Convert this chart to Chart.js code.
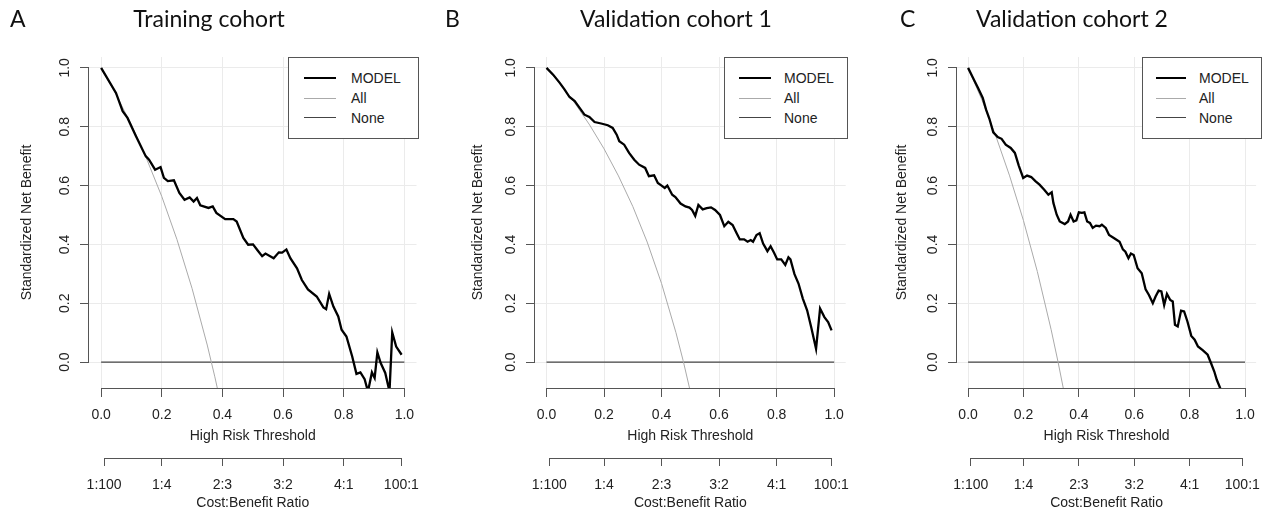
<!DOCTYPE html>
<html>
<head>
<meta charset="utf-8">
<script src="https://cdn.jsdelivr.net/npm/chart.js@4.4.1/dist/chart.umd.min.js"></script>
<style>
  body { margin: 0; background: #fff; width: 1271px; height: 513px; position: relative; overflow: hidden; }
  canvas { position: absolute; top: 0; }
  .letter, .title { position: absolute; top: 5px; font-family: Lato, "Open Sans", sans-serif; font-size: 23px; line-height: 27px; color: #111; white-space: nowrap; }
  .title { transform: translateX(-50%); }
  .legend { position: absolute; top: 57px; height: 82px; box-sizing: border-box; border: 1px solid #555; background: #fff; }
  .legend .sample { position: absolute; height: 0; }
  .legend .label { position: absolute; font-family: "Liberation Sans", Arial, sans-serif; font-size: 14px; line-height: 16px; color: #222; }
</style>
</head>
<body>
<canvas id="chartA" width="430" height="513"></canvas>
<canvas id="chartB" width="414" height="513"></canvas>
<canvas id="chartC" width="403" height="513"></canvas>

<script>
// Tick values / labels shared by all three panels
const xTicks = [0, 0.2, 0.4, 0.6, 0.8, 1.0];
const yTicks = [0, 0.2, 0.4, 0.6, 0.8, 1.0];
const costTicks = [0.0099, 0.2, 0.4, 0.6, 0.8, 0.9901];
const costLabels = ['1:100', '1:4', '2:3', '3:2', '4:1', '100:1'];
const seriesNames = ['MODEL', 'All', 'None'];

// Training cohort (A) - model curve
const trainT = [0, 0.049, 0.071, 0.087, 0.115, 0.147, 0.158, 0.178, 0.196, 0.207, 0.22, 0.24, 0.258, 0.275, 0.292, 0.305, 0.316, 0.327, 0.354, 0.368, 0.38, 0.409, 0.436, 0.447, 0.469, 0.485, 0.501, 0.515, 0.531, 0.542, 0.569, 0.586, 0.597, 0.611, 0.624, 0.646, 0.662, 0.682, 0.711, 0.733, 0.742, 0.752, 0.766, 0.782, 0.793, 0.809, 0.828, 0.842, 0.855, 0.869, 0.88, 0.893, 0.902, 0.911, 0.922, 0.937, 0.951, 0.96, 0.973, 0.991];
const trainNB = [1.0, 0.915, 0.853, 0.83, 0.768, 0.7, 0.688, 0.654, 0.663, 0.626, 0.615, 0.618, 0.575, 0.552, 0.56, 0.546, 0.558, 0.533, 0.524, 0.529, 0.507, 0.486, 0.486, 0.478, 0.422, 0.399, 0.4, 0.381, 0.36, 0.369, 0.353, 0.373, 0.372, 0.383, 0.353, 0.319, 0.279, 0.247, 0.223, 0.186, 0.18, 0.232, 0.189, 0.155, 0.11, 0.087, 0.019, -0.04, -0.035, -0.058, -0.1, -0.035, -0.054, 0.033, -0.003, -0.037, -0.1, 0.101, 0.053, 0.025];
const trainAllT = [0, 0.05, 0.1, 0.15, 0.2, 0.25, 0.3, 0.35, 0.375, 0.4];
const trainAllNB = [1.0, 0.908, 0.806, 0.691, 0.563, 0.417, 0.25, 0.058, -0.05, -0.167];

// Validation cohort 1 (B)
const val1T = [0, 0.023, 0.046, 0.063, 0.08, 0.098, 0.115, 0.132, 0.149, 0.167, 0.19, 0.213, 0.23, 0.244, 0.253, 0.27, 0.287, 0.305, 0.322, 0.343, 0.356, 0.374, 0.387, 0.4, 0.411, 0.42, 0.437, 0.448, 0.466, 0.483, 0.497, 0.506, 0.517, 0.528, 0.543, 0.557, 0.572, 0.586, 0.603, 0.618, 0.632, 0.647, 0.661, 0.672, 0.687, 0.699, 0.71, 0.718, 0.73, 0.741, 0.753, 0.768, 0.779, 0.791, 0.802, 0.816, 0.83, 0.841, 0.848, 0.862, 0.876, 0.891, 0.906, 0.92, 0.937, 0.951, 0.966, 0.979, 0.991];
const val1NB = [1.0, 0.977, 0.949, 0.926, 0.901, 0.887, 0.864, 0.841, 0.833, 0.816, 0.811, 0.805, 0.796, 0.773, 0.751, 0.739, 0.711, 0.688, 0.671, 0.66, 0.632, 0.635, 0.609, 0.6, 0.592, 0.6, 0.569, 0.561, 0.539, 0.529, 0.525, 0.517, 0.497, 0.534, 0.519, 0.523, 0.526, 0.517, 0.5, 0.462, 0.477, 0.466, 0.438, 0.417, 0.417, 0.409, 0.415, 0.409, 0.432, 0.438, 0.403, 0.377, 0.394, 0.372, 0.349, 0.349, 0.33, 0.356, 0.349, 0.299, 0.267, 0.216, 0.176, 0.119, 0.045, 0.182, 0.153, 0.136, 0.108];
const val1AllT = [0, 0.05, 0.1, 0.15, 0.2, 0.25, 0.3, 0.35, 0.4, 0.45, 0.475, 0.5];
const val1AllNB = [1.0, 0.942, 0.878, 0.806, 0.725, 0.633, 0.529, 0.408, 0.267, 0.1, 0.005, -0.1];

// Validation cohort 2 (C)
const val2T = [0, 0.018, 0.036, 0.053, 0.065, 0.077, 0.091, 0.107, 0.121, 0.136, 0.154, 0.169, 0.183, 0.199, 0.213, 0.228, 0.243, 0.258, 0.275, 0.29, 0.302, 0.308, 0.32, 0.331, 0.349, 0.361, 0.37, 0.381, 0.391, 0.4, 0.411, 0.42, 0.43, 0.44, 0.45, 0.462, 0.475, 0.483, 0.497, 0.509, 0.529, 0.547, 0.559, 0.568, 0.579, 0.588, 0.598, 0.612, 0.627, 0.641, 0.653, 0.667, 0.677, 0.688, 0.698, 0.708, 0.718, 0.73, 0.739, 0.747, 0.757, 0.769, 0.78, 0.792, 0.806, 0.818, 0.83, 0.848, 0.865, 0.877, 0.889, 0.898, 0.91, 0.92];
const val2NB = [1.0, 0.966, 0.932, 0.898, 0.858, 0.827, 0.781, 0.765, 0.759, 0.739, 0.728, 0.711, 0.668, 0.626, 0.634, 0.629, 0.615, 0.603, 0.586, 0.569, 0.577, 0.541, 0.501, 0.478, 0.469, 0.478, 0.501, 0.478, 0.482, 0.509, 0.507, 0.509, 0.478, 0.473, 0.456, 0.464, 0.462, 0.467, 0.456, 0.432, 0.42, 0.409, 0.383, 0.375, 0.353, 0.369, 0.364, 0.319, 0.302, 0.247, 0.228, 0.2, 0.223, 0.243, 0.24, 0.194, 0.232, 0.211, 0.206, 0.127, 0.121, 0.175, 0.172, 0.138, 0.089, 0.076, 0.053, 0.04, 0.025, -0.003, -0.032, -0.06, -0.088, -0.12];
const val2AllT = [0, 0.05, 0.1, 0.15, 0.2, 0.25, 0.3, 0.325, 0.35];
const val2AllNB = [1.0, 0.891, 0.769, 0.633, 0.481, 0.308, 0.11, 0.0, -0.118];

// "None" reference line
const noneT = [0, 1];
const noneNB = [0, 0];

const AXIS_COLOR = '#555';
const GRID_COLOR = '#ebebeb';
const TEXT_COLOR = '#222';
const lineColors = ['#000', '#aaa', '#444'];
const lineWidths = [2.3, 1, 1.2];

// Layout of the three panels (pixels)
const panels = [
    { canvas: 'chartA', left: 0, padRight: 11, yTitlePad: 19, letter: 'A', letterLeft: 10, title: 'Training cohort', titleCenter: 209,
      legend: { left: 288, width: 131, sampleX: 15, sampleW: 32, textX: 62 },
      t: trainT, nb: trainNB, allT: trainAllT, allNB: trainAllNB },
    { canvas: 'chartB', left: 446, padRight: 12, yTitlePad: 24, letter: 'B', letterLeft: 445, title: 'Validation cohort 1', titleCenter: 676,
      legend: { left: 724, width: 124, sampleX: 14, sampleW: 32, textX: 59 },
      t: val1T, nb: val1NB, allT: val1AllT, allNB: val1AllNB },
    { canvas: 'chartC', left: 868, padRight: 9, yTitlePad: 26, letter: 'C', letterLeft: 900, title: 'Validation cohort 2', titleCenter: 1072,
      legend: { left: 1142, width: 120, sampleX: 13, sampleW: 30, textX: 56 },
      t: val2T, nb: val2NB, allT: val2AllT, allNB: val2AllNB }
];

Chart.defaults.font.family = "'Liberation Sans', Arial, sans-serif";
Chart.defaults.font.size = 14;
Chart.defaults.color = TEXT_COLOR;

function toPoints(xs, ys) {
    return xs.map((x, i) => ({ x: x, y: ys[i] }));
}

// Draws the R-style axis lines, which only run from the first to the last tick
const axisLines = {
    id: 'axisLines',
    afterDraw(chart) {
        const { ctx, chartArea, scales } = chart;
        const { x, y, x2 } = scales;
        ctx.save();
        ctx.strokeStyle = AXIS_COLOR;
        ctx.lineWidth = 1;
        ctx.beginPath();
        const yb = Math.round(chartArea.bottom) + 0.5;
        ctx.moveTo(x.getPixelForValue(xTicks[0]), yb);
        ctx.lineTo(x.getPixelForValue(xTicks[xTicks.length - 1]), yb);
        const xl = Math.round(chartArea.left) - 0.5;
        ctx.moveTo(xl, y.getPixelForValue(yTicks[0]));
        ctx.lineTo(xl, y.getPixelForValue(yTicks[yTicks.length - 1]));
        const y2 = Math.round(x2.top) + 0.5;
        ctx.moveTo(x2.getPixelForValue(costTicks[0]), y2);
        ctx.lineTo(x2.getPixelForValue(costTicks[costTicks.length - 1]), y2);
        ctx.stroke();
        ctx.restore();
    }
};

function addText(p) {
    const letter = document.createElement('div');
    letter.className = 'letter';
    letter.style.left = p.letterLeft + 'px';
    letter.textContent = p.letter;
    document.body.appendChild(letter);

    const title = document.createElement('div');
    title.className = 'title';
    title.style.left = p.titleCenter + 'px';
    title.textContent = p.title;
    document.body.appendChild(title);

    // Legend box in the top right corner of the plot
    const lg = document.createElement('div');
    lg.className = 'legend';
    lg.style.left = p.legend.left + 'px';
    lg.style.width = p.legend.width + 'px';
    seriesNames.forEach((name, i) => {
        const rowY = 20 + i * 20;
        const s = document.createElement('div');
        s.className = 'sample';
        s.style.left = p.legend.sampleX + 'px';
        s.style.width = p.legend.sampleW + 'px';
        s.style.top = (rowY - lineWidths[i] / 2) + 'px';
        s.style.borderTop = lineWidths[i] + 'px solid ' + lineColors[i];
        lg.appendChild(s);
        const t = document.createElement('div');
        t.className = 'label';
        t.style.left = p.legend.textX + 'px';
        t.style.top = (rowY - 8) + 'px';
        t.textContent = name;
        lg.appendChild(t);
    });
    document.body.appendChild(lg);
}

function renderPanel(p) {
    const canvas = document.getElementById(p.canvas);
    canvas.style.left = p.left + 'px';

    const datasets = [
        toPoints(p.t, p.nb),
        toPoints(p.allT, p.allNB),
        toPoints(noneT, noneNB)
    ].map((data, i) => ({
        label: seriesNames[i],
        data: data,
        borderColor: lineColors[i],
        borderWidth: lineWidths[i],
        pointRadius: 0,
        tension: 0,
        fill: false
    }));

    new Chart(canvas, {
        type: 'line',
        data: { datasets: datasets },
        options: {
            responsive: false,
            animation: false,
            devicePixelRatio: 1,
            layout: { padding: { top: 57, right: p.padRight, bottom: 0, left: 0 } },
            plugins: { legend: { display: false }, tooltip: { enabled: false } },
            scales: {
                x: {
                    type: 'linear', position: 'bottom', weight: 0,
                    min: -0.04, max: 1.04,
                    afterBuildTicks: (s) => { s.ticks = xTicks.map(v => ({ value: v })); },
                    afterFit: (s) => { s.height = 70; },
                    ticks: { padding: 10, callback: (v) => v.toFixed(1) },
                    grid: { color: GRID_COLOR, tickColor: AXIS_COLOR, tickLength: 9 },
                    border: { display: false },
                    title: { display: true, text: 'High Risk Threshold', padding: { top: 0, bottom: 13.5 } }
                },
                x2: {
                    type: 'linear', position: 'bottom', weight: 1,
                    min: -0.04, max: 1.04,
                    afterBuildTicks: (s) => { s.ticks = costTicks.map(v => ({ value: v })); },
                    afterFit: (s) => { s.height = 55; },
                    ticks: { padding: 10.5, autoSkip: false, maxRotation: 0, callback: (v, i) => costLabels[i] },
                    grid: { drawOnChartArea: false, tickColor: AXIS_COLOR, tickLength: 8 },
                    border: { display: false },
                    title: { display: true, text: 'Cost:Benefit Ratio', padding: { top: 0, bottom: 1.5 } }
                },
                y: {
                    type: 'linear', position: 'left',
                    min: -0.088, max: 1.037,
                    afterBuildTicks: (s) => { s.ticks = yTicks.map(v => ({ value: v })); },
                    afterFit: (s) => { s.width = 89; },
                    ticks: { padding: 5, minRotation: 90, maxRotation: 90, crossAlign: 'center', callback: (v) => v.toFixed(1) },
                    grid: { color: GRID_COLOR, tickColor: AXIS_COLOR, tickLength: 9 },
                    border: { display: false },
                    title: { display: true, text: 'Standardized Net Benefit', padding: { top: p.yTitlePad, bottom: 0 } }
                }
            }
        },
        plugins: [axisLines]
    });

    addText(p);
}

panels.forEach(renderPanel);
</script>
</body>
</html>
